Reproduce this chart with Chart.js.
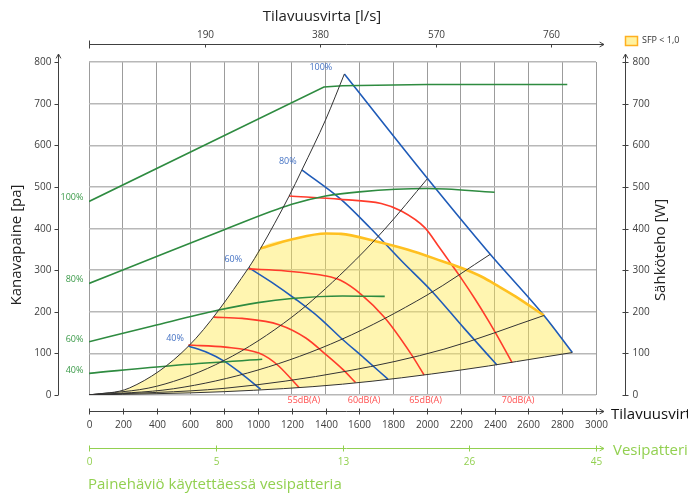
<!DOCTYPE html>
<html>
<head>
<meta charset="utf-8">
<script src="https://cdn.jsdelivr.net/npm/chart.js@4.4.0/dist/chart.umd.min.js"></script>
<style>
  html, body { margin: 0; padding: 0; background: #fff; }
  canvas { display: block; }
</style>
</head>
<body>
<canvas id="chart" width="688" height="497"></canvas>
<script>
// Axis ticks
const flowTicks = [0, 200, 400, 600, 800, 1000, 1200, 1400, 1600, 1800, 2000, 2200, 2400, 2600, 2800, 3000];
const flowLsTicks = [190, 380, 570, 760];          // l/s, top axis
const pressureTicks = [0, 100, 200, 300, 400, 500, 600, 700, 800];
const waterTickPos = [0, 750, 1500, 2250, 3000];   // m3/h position of water coil ticks
const waterTickLabels = ['0', '5', '13', '26', '45'];

// System curves (m3/h, Pa)
const system1 = [[0, 0], [240, 17], [588, 117], [945, 306], [1015, 352], [1183, 477], [1259, 540], [1402, 663], [1511, 771]];
const system2 = [[0, 0], [400, 21], [800, 83], [1200, 187], [1521, 302], [1749, 398], [2003, 520]];
const system3 = [[0, 0], [500, 15], [1000, 60], [1491, 133], [2000, 240], [2374, 338]];
const system4 = [[0, 0], [800, 16], [1521, 57], [2100, 110], [2692, 191]];
const system5 = [[0, 0], [800, 8], [1500, 26], [2200, 60], [2860, 102]];

// Fan speed curves (blue)
const fan40 = [[588, 118], [700, 102], [797, 82], [900, 52], [1015, 14]];
const fan60 = [[945, 306], [1084, 270], [1223, 230], [1362, 186], [1491, 137], [1630, 88], [1769, 38]];
const fan80 = [[1259, 541], [1491, 470], [1660, 403], [1850, 322], [2027, 250], [2220, 160], [2414, 72]];
const fan100 = [[1511, 771], [2003, 520], [2374, 338], [2692, 191], [2860, 102]];

// Sound level curves (red)
const sound55 = [[588, 120], [807, 115], [1005, 101], [1065, 88], [1124, 69], [1243, 18]];
const sound60 = [[737, 187], [906, 184], [1124, 169], [1283, 137], [1402, 97], [1500, 62], [1577, 30]];
const sound65 = [[945, 303], [1164, 298], [1402, 286], [1491, 275], [1610, 242], [1749, 186], [1908, 97], [1983, 48]];
const sound70 = [[1183, 478], [1491, 470], [1729, 460], [1848, 442], [1987, 402], [2067, 358], [2146, 313], [2205, 279], [2285, 230], [2364, 178], [2414, 143], [2503, 78]];

// Electric power curves (green, W)
const power40 = [[0, 52], [500, 71], [1025, 86]];
const power60 = [[0, 128], [370, 165], [767, 204], [1000, 222], [1200, 232], [1500, 238], [1750, 237]];
const power80 = [[0, 268], [400, 333], [800, 397], [1200, 458], [1400, 478], [1600, 488], [2000, 496], [2400, 487]];
const power100 = [[0, 465], [1390, 740], [1500, 743], [2000, 746], [2830, 746]];

// SFP < 1,0 boundary (orange)
const sfpEdge = [[1015, 352], [1203, 374], [1402, 388], [1491, 387], [1689, 370], [1888, 349], [2086, 322], [2205, 305], [2324, 284], [2424, 261], [2523, 237], [2692, 191]];

// Curve labels [text, x, y]
const fanLabels = [['100%', 1372, 788], ['80%', 1176, 561], ['60%', 854, 325], ['40%', 509, 137]];
const powerLabels = [['100%', -33, 475], ['80%', -33, 277], ['60%', -33, 133], ['40%', -33, 58]];
const soundLabels = [['55dB(A)', 1271, -12], ['60dB(A)', 1628, -12], ['65dB(A)', 1991, -12], ['70dB(A)', 2539, -12]];

const FONT = '"Open Sans", "Liberation Sans", sans-serif';
const pts = arr => arr.map(p => ({ x: p[0], y: p[1] }));

// top edge of the yellow area: system1 -> orange edge -> 100% fan curve
const sfpTop = pts(system1.filter(p => p[0] < sfpEdge[0][0]))
    .concat(pts(sfpEdge))
    .concat(pts(fan100.filter(p => p[0] > sfpEdge[sfpEdge.length - 1][0])));

function curve(data, color, width, mono) {
    return {
        data: pts(data),
        borderColor: color,
        borderWidth: width,
        showLine: true,
        pointRadius: 0,
        fill: false,
        tension: mono ? 0.4 : 0,
        cubicInterpolationMode: mono ? 'monotone' : 'default'
    };
}

function arrowLine(ctx, x1, y1, x2, y2) {
    ctx.beginPath();
    ctx.moveTo(x1, y1);
    ctx.lineTo(x2, y2);
    ctx.stroke();
    const ang = Math.atan2(y2 - y1, x2 - x1);
    ctx.beginPath();
    ctx.moveTo(x2 - 5 * Math.cos(ang - 0.5), y2 - 5 * Math.sin(ang - 0.5));
    ctx.lineTo(x2, y2);
    ctx.lineTo(x2 - 5 * Math.cos(ang + 0.5), y2 - 5 * Math.sin(ang + 0.5));
    ctx.stroke();
}

const decor = {
    id: 'decor',
    afterDraw(chart) {
        const ctx = chart.ctx;
        const a = chart.chartArea;
        const x = chart.scales.x, y = chart.scales.y;
        ctx.save();
        ctx.strokeStyle = '#404040';
        ctx.fillStyle = '#404040';
        ctx.lineWidth = 1;
        ctx.font = '10px ' + FONT;
        ctx.textBaseline = 'middle';

        // left axis
        const lx = 58.5;
        arrowLine(ctx, lx, a.bottom, lx, a.top - 8);
        ctx.textAlign = 'right';
        pressureTicks.forEach(v => {
            const py = Math.round(y.getPixelForValue(v)) + 0.5;
            ctx.beginPath(); ctx.moveTo(lx - 4, py); ctx.lineTo(lx, py); ctx.stroke();
            ctx.fillText(String(v), lx - 7, py);
        });

        // right axis
        const rx = 625.5;
        arrowLine(ctx, rx, a.bottom, rx, a.top - 8);
        ctx.textAlign = 'left';
        pressureTicks.forEach(v => {
            const py = Math.round(y.getPixelForValue(v)) + 0.5;
            ctx.beginPath(); ctx.moveTo(rx - 3, py); ctx.lineTo(rx + 3, py); ctx.stroke();
            ctx.fillText(String(v), rx + 7, py);
        });

        // top axis (l/s)
        const ty = 44.5;
        arrowLine(ctx, a.left, ty, a.right + 8, ty);
        ctx.beginPath(); ctx.moveTo(a.left + 0.5, ty - 4); ctx.lineTo(a.left + 0.5, ty + 4); ctx.stroke();
        ctx.textAlign = 'center';
        flowLsTicks.forEach(v => {
            const px = Math.round(x.getPixelForValue(v * 3.6)) + 0.5;
            ctx.beginPath(); ctx.moveTo(px, ty); ctx.lineTo(px, ty + 3); ctx.stroke();
            ctx.fillText(String(v), px, ty - 9);
        });

        // bottom axis (m3/h)
        const by = 411.5;
        arrowLine(ctx, a.left, by, a.right + 8, by);
        flowTicks.forEach(v => {
            const px = Math.round(x.getPixelForValue(v)) + 0.5;
            ctx.beginPath(); ctx.moveTo(px, by - 3); ctx.lineTo(px, by + 3); ctx.stroke();
            ctx.fillText(String(v), px, by + 14);
        });

        // water coil axis
        const gy = 448.5;
        ctx.strokeStyle = '#92d050';
        ctx.fillStyle = '#92d050';
        arrowLine(ctx, a.left, gy, a.right + 8, gy);
        waterTickPos.forEach((v, i) => {
            const px = Math.round(x.getPixelForValue(v)) + 0.5;
            ctx.beginPath(); ctx.moveTo(px, gy - 3); ctx.lineTo(px, gy + 3); ctx.stroke();
            ctx.fillText(waterTickLabels[i], px, gy + 14);
        });

        // titles
        ctx.font = '15px ' + FONT;
        ctx.textAlign = 'left';
        ctx.fillText('Vesipatteri [Pa]', 613, gy + 2);
        ctx.fillText('Painehäviö käytettäessä vesipatteria', 88, 485);
        ctx.fillStyle = '#111';
        ctx.fillText('Tilavuusvirta [m³/h]', 611, by + 3);
        ctx.textAlign = 'center';
        ctx.fillStyle = '#222';
        ctx.fillText('Tilavuusvirta [l/s]', 322, 17);
        ctx.save();
        ctx.translate(17, 245);
        ctx.rotate(-Math.PI / 2);
        ctx.fillText('Kanavapaine [pa]', 0, 0);
        ctx.restore();
        ctx.save();
        ctx.translate(661, 250);
        ctx.rotate(-Math.PI / 2);
        ctx.fillText('Sähköteho [W]', 0, 0);
        ctx.restore();

        // legend
        ctx.fillStyle = '#fff2a0';
        ctx.strokeStyle = '#ffb020';
        ctx.lineWidth = 1.5;
        ctx.fillRect(625.5, 36.5, 12, 9);
        ctx.strokeRect(625.5, 36.5, 12, 9);
        ctx.fillStyle = '#333';
        ctx.font = '9px ' + FONT;
        ctx.textAlign = 'left';
        ctx.fillText('SFP < 1,0', 642, 40);

        // curve labels
        const lab = (list, color, align) => {
            ctx.fillStyle = color;
            ctx.textAlign = align;
            list.forEach(l => ctx.fillText(l[0], x.getPixelForValue(l[1]), y.getPixelForValue(l[2])));
        };
        lab(fanLabels, '#4472c4', 'center');
        lab(powerLabels, '#3a9a48', 'right');
        lab(soundLabels, '#ff5050', 'center');
        ctx.restore();
    }
};

const BLACK = '#333333', BLUE = '#1f5bb8', RED = '#ff3b2b', GREEN = '#2e8b40';

const datasets = [
    { data: sfpTop, borderWidth: 0, borderColor: 'rgba(0,0,0,0)', pointRadius: 0, showLine: true,
      tension: 0.4, cubicInterpolationMode: 'monotone',
      backgroundColor: 'rgba(255,232,80,0.45)', fill: 5 },
    curve(system1, BLACK, 1, true),
    curve(system2, BLACK, 1, true),
    curve(system3, BLACK, 1, true),
    curve(system4, BLACK, 1, true),
    curve(system5, BLACK, 1, true),
    curve(sfpEdge, '#ffc020', 2.6, true),
    curve(power40, GREEN, 1.6, true),
    curve(power60, GREEN, 1.6, true),
    curve(power80, GREEN, 1.6, true),
    curve(power100, GREEN, 1.6, false),
    curve(sound55, RED, 1.6, true),
    curve(sound60, RED, 1.6, true),
    curve(sound65, RED, 1.6, true),
    curve(sound70, RED, 1.6, true),
    curve(fan40, BLUE, 1.6, true),
    curve(fan60, BLUE, 1.6, true),
    curve(fan80, BLUE, 1.6, true),
    curve(fan100, BLUE, 1.6, true)
];

new Chart(document.getElementById('chart'), {
    type: 'scatter',
    data: { datasets: datasets },
    options: {
        responsive: false,
        animation: false,
        devicePixelRatio: 1,
        layout: { padding: { left: 89, top: 62, right: 92, bottom: 102 } },
        plugins: {
            legend: { display: false },
            tooltip: { enabled: false },
            filler: { drawTime: 'beforeDatasetsDraw' }
        },
        scales: {
            x: {
                type: 'linear', min: 0, max: 3000,
                ticks: { stepSize: 200, display: false },
                grid: { color: '#9c9c9c', lineWidth: 1, drawTicks: false },
                border: { display: false }
            },
            y: {
                type: 'linear', min: 0, max: 800,
                ticks: { stepSize: 100, display: false },
                grid: { color: '#b8b8b8', lineWidth: 1.5, drawTicks: false },
                border: { display: false }
            }
        }
    },
    plugins: [decor]
});
</script>
</body>
</html>
